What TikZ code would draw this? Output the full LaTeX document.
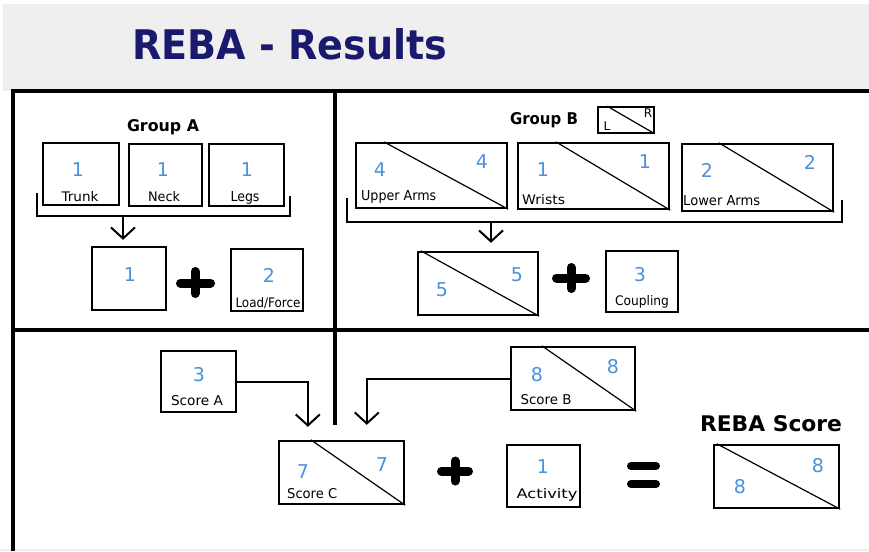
\documentclass[tikz,border=0pt]{standalone}
\usepackage{fontspec}
\setmainfont{DejaVu Sans}
\usetikzlibrary{arrows.meta}
\definecolor{navy}{RGB}{25,25,110}
\definecolor{numblue}{RGB}{75,145,220}
\definecolor{bandgray}{RGB}{239,239,239}
\newcommand\lab[3][10pt]{\resizebox{#2pt}{#1}{#3}}
\tikzset{
 box/.style={draw=black, line width=2.4pt, fill=white, inner sep=0pt},
 frameline/.style={line width=3.5pt},
 diag/.style={line width=1.2pt},
 num/.style={text=numblue, font=\fontsize{19}{19}\selectfont, inner sep=0pt},
 lbl/.style={inner sep=0pt, text=black},
 brk/.style={line width=2.4pt},
 arr/.style={line width=2pt, -{Straight Barb[length=11pt,width=24pt]}},
 op/.style={line width=9pt, line cap=round},
}
\begin{document}
\begin{tikzpicture}[x=1pt,y=-1pt]
\useasboundingbox (0,0) rectangle (869,551);
\fill[white] (0,0) rectangle (869,551);
\fill[bandgray] (3,4) rectangle (869,91);
\fill[bandgray] (0,548.5) rectangle (869,551);

% title
\node[inner sep=0pt, text=navy] (title) at (290,44) {\lab[31pt]{315}{\bfseries REBA - Results}};

% frame
\draw[frameline] (13,551) -- (13,91) -- (869,91);
\draw[frameline] (13,330) -- (869,330);
\draw[frameline] (335,91) -- (335,425);

% ---------- Group A ----------
\node[lbl] (grpA) at (163,127) {\lab[12pt]{72}{\bfseries Group A}};
\node[box, minimum width=76pt, minimum height=62pt] (trunk) at (81,174) {};
\node[box, minimum width=73pt, minimum height=62pt] (neck) at (165.5,175) {};
\node[box, minimum width=75pt, minimum height=62pt] (legs) at (246.5,175) {};
\node[num] (ntrunk) at (78,170) {1};
\node[num] (nneck) at (163,170) {1};
\node[num] (nlegs) at (247,170) {1};
\node[lbl] (ltrunk) at (80,197) {\lab{37}{Trunk}};
\node[lbl] (lneck) at (164,197) {\lab{32}{Neck}};
\node[lbl] (llegs) at (245,198) {\lab{29}{Legs}};

\coordinate (bAl) at (37,193);
\coordinate (bAr) at (290,196);
\draw[brk] (bAl) -- (37,216) -- (290,216) -- (bAr);
\coordinate (bAa) at (123,216);

\node[box, minimum width=74pt, minimum height=63pt] (sumA) at (129,278.5) {};
\node[box, minimum width=72pt, minimum height=62pt] (load) at (267,280) {};
\draw[arr, shorten >=6pt] (bAa) -- (bAa |- sumA.north);
\node[num] (nsumA) at (130,275) {1};
\node[num] (nload) at (269,275) {2};
\node[lbl] (lload) at (268,303) {\lab{65}{Load/Force}};
\draw[op] (180.5,283) -- (210.5,283);
\draw[op] (195,271.5) -- (195,293.5);

% ---------- Group B ----------
\node[lbl] (grpB) at (544,120) {\lab[12pt]{68}{\bfseries Group B}};
\node[box, line width=1.6pt, minimum width=56pt, minimum height=26pt] (legend) at (626,120) {};
\draw[diag] ([xshift=10pt]legend.north west) -- (legend.south east);
\node[lbl, font=\fontsize{12}{12}\selectfont] (legL) at (607,126.5) {L};
\node[lbl, font=\fontsize{12}{12}\selectfont] (legR) at (648,113.5) {R};

\node[box, minimum width=151pt, minimum height=65pt] (upper) at (431.5,175.5) {};
\node[box, minimum width=151pt, minimum height=66pt] (wrists) at (593.5,176) {};
\node[box, minimum width=151pt, minimum height=67pt] (lower) at (757.5,177.5) {};
\draw[diag] ([xshift=29pt]upper.north west) -- (upper.south east);
\draw[diag] ([xshift=39pt]wrists.north west) -- (wrists.south east);
\draw[diag] ([xshift=38pt]lower.north west) -- (lower.south east);
\node[num] (nupL) at (380,170) {4};
\node[num] (nupR) at (482,162) {4};
\node[num] (nwrL) at (543,170) {1};
\node[num] (nwrR) at (645,162) {1};
\node[num] (nloL) at (707,170) {2};
\node[num] (nloR) at (810,162) {2};
\node[lbl, anchor=west] (lupper) at (361,197) {\lab{75}{Upper Arms}};
\node[lbl, anchor=west] (lwrists) at (522,200) {\lab{43}{Wrists}};
\node[lbl, anchor=west] (llower) at (683,201) {\lab{77}{Lower Arms}};

\coordinate (bBl) at (347,198);
\coordinate (bBr) at (842,200);
\draw[brk] (bBl) -- (347,222) -- (842,222) -- (bBr);
\coordinate (bBa) at (491,222);

\node[box, minimum width=120pt, minimum height=63pt] (sumB) at (478,283.5) {};
\draw[diag] ([xshift=4pt]sumB.north west) -- (sumB.south east);
\draw[arr, shorten >=8pt] (bBa) -- (bBa |- sumB.north);
\node[num] (nsumBL) at (442,290) {5};
\node[num] (nsumBR) at (517,275) {5};
\node[box, minimum width=72pt, minimum height=61pt] (coupling) at (642,281.5) {};
\node[num] (ncoup) at (640,275) {3};
\node[lbl] (lcoup) at (642,302) {\lab{54}{Coupling}};
\draw[op] (556.5,278) -- (585.5,278);
\draw[op] (571,267.5) -- (571,288.5);

% ---------- Bottom ----------
\node[box, minimum width=75pt, minimum height=61pt] (scoreA) at (198.5,381.5) {};
\node[num] (nscA) at (199,375) {3};
\node[lbl] (lscA) at (197,401) {\lab{52}{Score A}};

\node[box, minimum width=124pt, minimum height=63pt] (scoreB) at (573,378.5) {};
\draw[diag] ([xshift=32pt]scoreB.north west) -- (scoreB.south east);
\node[num] (nscBL) at (537,375) {8};
\node[num] (nscBR) at (613,367) {8};
\node[lbl] (lscB) at (546,400) {\lab{51}{Score B}};

\node[box, minimum width=125pt, minimum height=63pt] (scoreC) at (341.5,472.5) {};
\draw[diag] ([xshift=33pt]scoreC.north west) -- (scoreC.south east);
\node[num] (nscCL) at (303,472) {7};
\node[num] (nscCR) at (382,465) {7};
\node[lbl, anchor=west] (lscC) at (287,494) {\lab{50}{Score C}};

\draw[arr, shorten >=13pt] (scoreA.east) -| ([xshift=30pt]scoreC.north west);
\draw[arr, shorten >=15pt] (scoreB.west) -| ([xshift=89pt]scoreC.north west);

\draw[op] (441.5,471) -- (468.5,471);
\draw[op] (455,461) -- (455,481);

\node[box, minimum width=73pt, minimum height=62pt] (activity) at (543.5,476) {};
\node[num] (nact) at (543,467) {1};
\node[lbl] (lact) at (547,495) {\lab{61}{Activity}};

\draw[line width=8pt, line cap=round] (631,466) -- (656,466);
\draw[line width=8pt, line cap=round] (631,484) -- (656,484);

\node[lbl] (rebatitle) at (771,424) {\lab[16pt]{142}{\bfseries REBA Score}};
\node[box, minimum width=125pt, minimum height=63pt] (reba) at (776.5,476.5) {};
\draw[diag] ([xshift=4pt]reba.north west) -- (reba.south east);
\node[num] (nrebaL) at (740,487) {8};
\node[num] (nrebaR) at (818,466) {8};
\end{tikzpicture}
\end{document}
